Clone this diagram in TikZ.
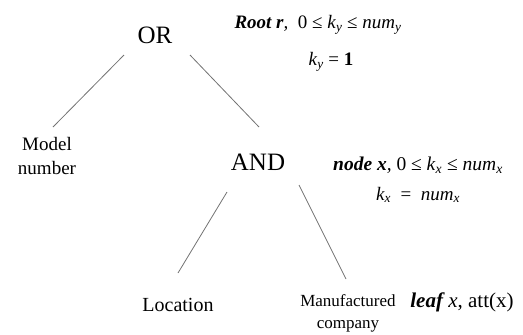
\documentclass[tikz,border=0pt]{standalone}
\usepackage{fontspec}
\setmainfont{Liberation Serif}
\begin{document}
\begin{tikzpicture}[x=1pt,y=-1pt,
  conn/.style={draw=black!55, line width=0.8pt},
  gate/.style={font=\fontsize{25}{28}\selectfont, inner sep=0pt},
  leaf/.style={inner sep=0pt, align=center},
  note/.style={font=\fontsize{19}{22}\selectfont, inner sep=0pt, align=center}]
\useasboundingbox (0,0) rectangle (523,335);
\node[gate] (or) at (155,35) {OR};
\node[gate] (and) at (258,162) {AND};
\node[leaf, font=\fontsize{19}{24}\selectfont, anchor=north] (model) at (47,137) {Model\\number};
\node[leaf, font=\fontsize{20}{24}\selectfont, anchor=base] (loc) at (178,311) {Location};
\node[leaf, font=\fontsize{17}{22}\selectfont, anchor=north] (man) at (348,294) {Manufactured\\company};
\node[note] (root) at (318,25) {\textit{\textbf{Root r},}\ \ 0 ≤ \textit{k}\textsubscript{\textit{y}} ≤ \textit{num}\textsubscript{\textit{y}}};
\node[note] (ky) at (331,62) {\textit{k}\textsubscript{\textit{y}}\ = \textbf{1}};
\node[note, font=\fontsize{19.5}{22}\selectfont] (nx) at (418,165) {\textit{\textbf{node x},} 0 ≤ \textit{k}\textsubscript{\textit{x}} ≤ \textit{num}\textsubscript{\textit{x}}};
\node[note] (kx) at (418,195) {\textit{k}\textsubscript{\textit{x}}\ \ =\ \ \textit{num}\textsubscript{\textit{x}}};
\node[note, font=\fontsize{21}{24}\selectfont, anchor=base] (lf) at (462,307) {\textit{\textbf{leaf} x}, att(x)};
\draw[conn] ([shift={(-31,20)}]or.center) -- ([shift={(6,-10)}]model.north);
\draw[conn] ([shift={(35,20)}]or.center) -- ([shift={(1,-35)}]and.center);
\draw[conn] ([shift={(-31,30)}]and.center) -- ([shift={(0,-38)}]loc.base);
\draw[conn] ([shift={(41,23)}]and.center) -- ([shift={(-2,-15)}]man.north);
\end{tikzpicture}
\end{document}
